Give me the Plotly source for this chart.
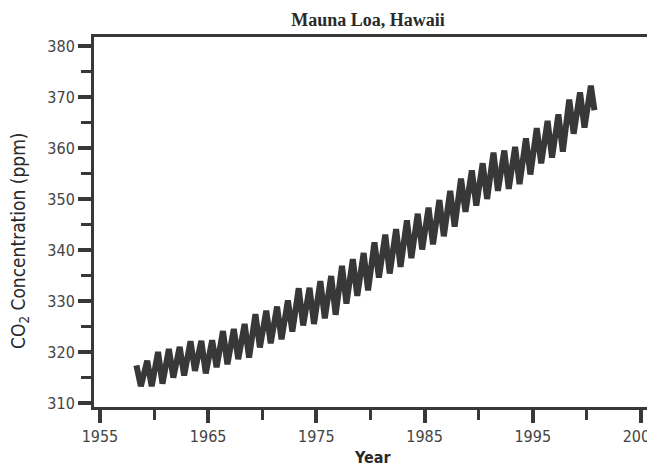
import plotly.graph_objects as go

# Seasonal extremes (approx. May peak / Oct trough), ppm
years = [1958, 1959, 1960, 1961, 1962, 1963, 1964, 1965, 1966, 1967,
         1968, 1969, 1970, 1971, 1972, 1973, 1974, 1975, 1976, 1977,
         1978, 1979, 1980, 1981, 1982, 1983, 1984, 1985, 1986, 1987,
         1988, 1989, 1990, 1991, 1992, 1993, 1994, 1995, 1996, 1997,
         1998, 1999, 2000]
peaks = [317.4, 318.3, 320.0, 320.6, 321.0, 322.1, 322.2, 322.3, 324.1, 324.5,
         325.5, 327.4, 328.1, 328.9, 330.1, 332.5, 332.6, 333.9, 334.9, 336.9,
         338.2, 339.4, 341.5, 343.0, 344.1, 345.8, 347.1, 348.3, 349.8, 351.6,
         354.0, 355.6, 357.0, 359.1, 359.5, 360.2, 361.9, 363.9, 365.3, 366.6,
         369.5, 370.9, 372.2]
troughs = [313.3, 313.3, 313.8, 315.0, 315.4, 316.3, 315.8, 317.0, 317.6, 318.6,
           318.9, 320.9, 321.7, 322.5, 324.0, 325.2, 325.5, 326.6, 327.3, 329.5,
           331.0, 332.1, 334.6, 335.4, 336.7, 338.4, 340.1, 341.1, 342.7, 344.6,
           347.5, 348.7, 350.0, 351.6, 352.0, 352.9, 354.8, 357.0, 358.1, 359.3,
           362.8, 364.0, 367.4]
peak_month_frac = 0.37
trough_month_frac = 0.78
end_frac = 0.70  # record ends before the final trough

x_tick_vals = [1955, 1965, 1975, 1985, 1995, 2005]
y_tick_vals = [310, 320, 330, 340, 350, 360, 370, 380]

t, co2 = [], []
for i, yr in enumerate(years):
    t.append(yr + peak_month_frac)
    co2.append(peaks[i])
    t.append(yr + (trough_month_frac if i < len(years) - 1 else end_frac))
    co2.append(troughs[i])

ink = "#383838"
narrow = "DejaVu Sans Condensed, Liberation Sans Narrow, sans-serif"

# the page body has an 8px margin, so the figure is sized to fill the rest
W, H = 647, 458
L, R, T, B = 86, 7, 29, 59
pw, ph = W - L - R, H - T - B


def px(xf):  # figure pixel -> paper x
    return (xf - L) / pw


def py(yf):  # figure pixel -> paper y
    return (H - B - yf) / ph


fig = go.Figure()
fig.add_trace(go.Scatter(x=t, y=co2, mode="lines",
                         line=dict(color=ink, width=6), hoverinfo="skip"))

fig.update_layout(
    width=W, height=H,
    margin=dict(l=L, r=R, t=T, b=B, autoexpand=False),
    paper_bgcolor="white", plot_bgcolor="white",
    showlegend=False,
    title=dict(text="<b>Mauna Loa, Hawaii</b>", x=360 / W, xanchor="center",
               y=1 - 12 / H, yanchor="middle",
               font=dict(family="Liberation Serif, Times New Roman, serif",
                         size=18, color="#2a2a2a")),
    annotations=[
        dict(text="CO<sub>2</sub> Concentration (ppm)", textangle=-90,
             xref="paper", yref="paper", x=px(12), y=py(233),
             xanchor="center", yanchor="middle", showarrow=False,
             font=dict(family=narrow, size=19, color="#2a2a2a")),
        dict(text="<b>Year</b>",
             xref="paper", yref="paper", x=px(364), y=py(449),
             xanchor="center", yanchor="middle", showarrow=False,
             font=dict(family=narrow, size=16, color="#2a2a2a")),
    ],
)
fig.update_xaxes(
    range=[1954.45, 2005.65], tickvals=x_tick_vals,
    ticktext=[str(v) for v in x_tick_vals],
    automargin=False, ticklabeloverflow="allow",
    showline=True, linecolor=ink, linewidth=3, mirror=True,
    ticks="outside", ticklen=13, tickwidth=4, tickcolor=ink,
    minor=dict(dtick=5, tick0=1955, ticks="outside", ticklen=10, tickwidth=3, tickcolor=ink),
    showgrid=False, zeroline=False,
    tickfont=dict(family=narrow, size=16, color="#444"),
)
fig.update_yaxes(
    range=[309.22, 381.76], tickvals=y_tick_vals,
    ticktext=[str(v) for v in y_tick_vals],
    automargin=False, ticklabeloverflow="allow",
    showline=True, linecolor=ink, linewidth=3, mirror=True,
    ticks="outside", ticklen=13, tickwidth=4, tickcolor=ink,
    minor=dict(dtick=5, tick0=310, ticks="outside", ticklen=10, tickwidth=3, tickcolor=ink),
    showgrid=False, zeroline=False,
    tickfont=dict(family=narrow, size=16, color="#444"),
)

fig.write_html("out.html")
